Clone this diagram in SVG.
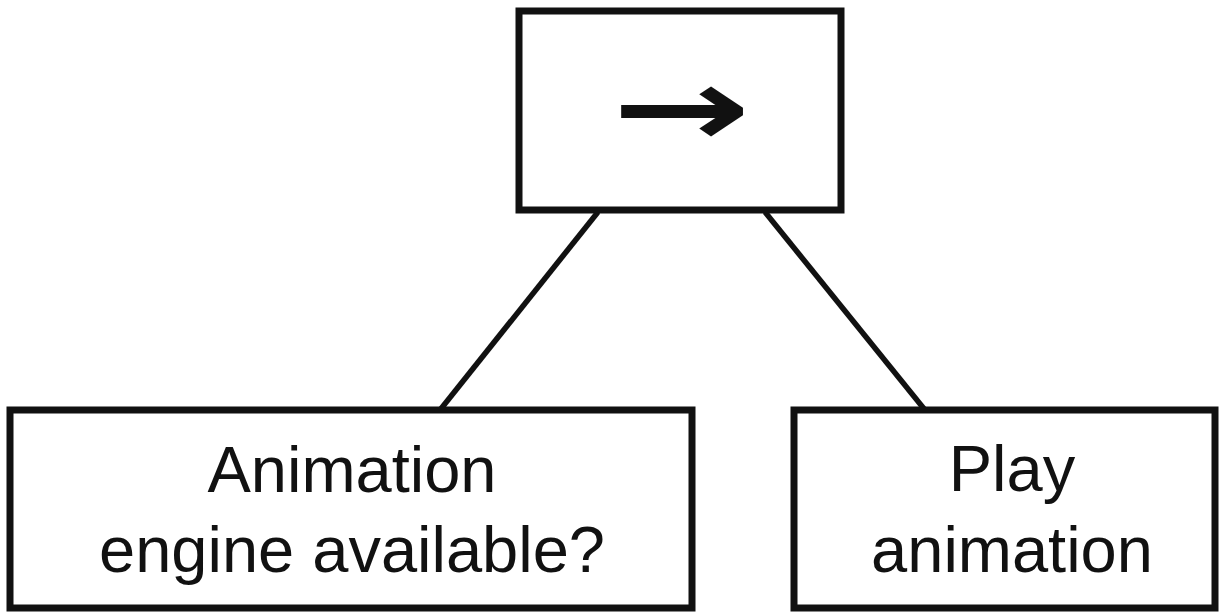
<svg xmlns="http://www.w3.org/2000/svg" width="1220" height="613" viewBox="0 0 1220 613">
  <style>
    .box { fill: #ffffff; stroke: #111111; stroke-width: 7; }
    .edge { stroke: #111111; stroke-width: 5.5; fill: none; }
    .label { font-family: "Liberation Sans", Arial, sans-serif; font-size: 65px; fill: #111111; text-anchor: middle; }
    .symbol { font-family: "DejaVu Sans", sans-serif; font-weight: bold; font-size: 160px; fill: #111111; text-anchor: middle; }
  </style>
  <rect x="0" y="0" width="1220" height="613" fill="#ffffff"/>

  <!-- tree edges -->
  <g id="connectors">
    <line class="edge" x1="598" y1="212" x2="440" y2="410"/>
    <line class="edge" x1="765" y1="212" x2="925" y2="410"/>
  </g>

  <!-- sequence node -->
  <g id="sequence">
    <rect class="box" x="519" y="11" width="322" height="199"/>
    <text class="symbol" transform="translate(681.5,111) scale(1.04,0.69)" x="0" y="50">→</text>
  </g>

  <!-- condition leaf -->
  <g id="condition">
    <rect class="box" x="10" y="410" width="682" height="198"/>
    <text class="label" x="352" y="492">Animation</text>
    <text class="label" x="352" y="572">engine available?</text>
  </g>

  <!-- action leaf -->
  <g id="action">
    <rect class="box" x="794" y="410" width="421" height="198"/>
    <text class="label" x="1012" y="491">Play</text>
    <text class="label" x="1012" y="572">animation</text>
  </g>
</svg>
